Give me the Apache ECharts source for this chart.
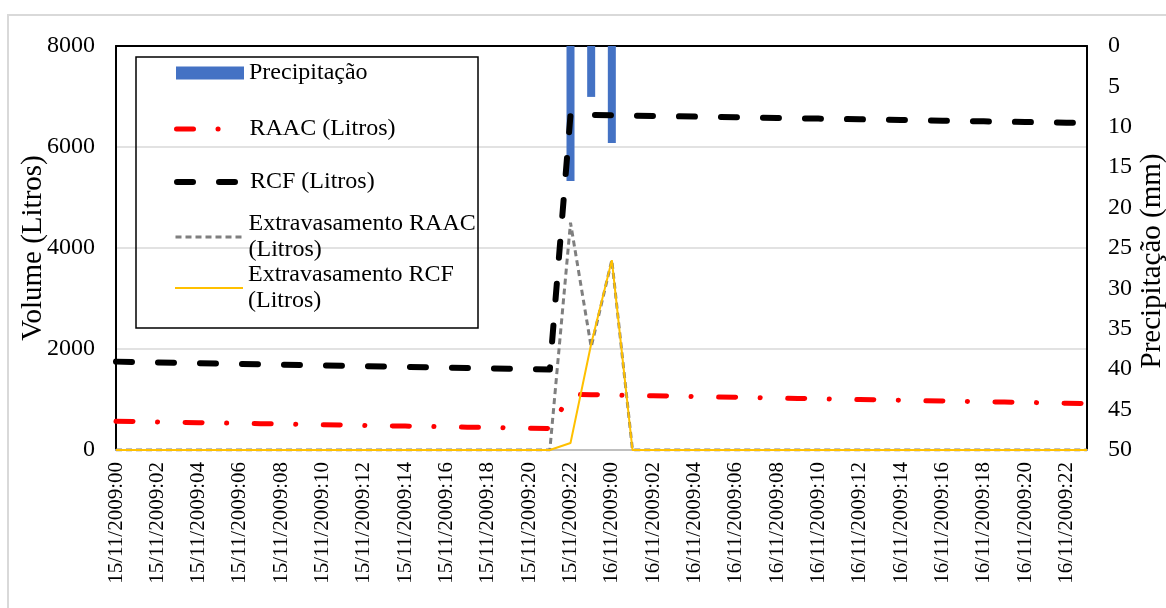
<!DOCTYPE html>
<html>
<head>
<meta charset="utf-8">
<script src="https://cdn.jsdelivr.net/npm/echarts@6/dist/echarts.min.js"></script>
<style>
  html, body { margin: 0; padding: 0; background: #ffffff; }
  #chart { width: 1166px; height: 608px; }
</style>
</head>
<body>
<div id="chart"></div>
<script>
// Hourly time stamps for the two days shown on the category axis
const days = ['15/11/2009', '16/11/2009'];
const hours = ['00','01','02','03','04','05','06','07','08','09','10','11',
               '12','13','14','15','16','17','18','19','20','21','22','23'];
const categories = [];
days.forEach(d => hours.forEach(h => categories.push(d + ':' + h)));

// Rainfall (mm), plotted downward from the top on the right axis
const precipitacao = [
  0, 0, 0, 0, 0, 0, 0, 0, 0, 0, 0, 0, 0, 0, 0, 0, 0, 0, 0, 0, 0, 0,
  16.7, 6.3, 12.0,
  0, 0, 0, 0, 0, 0, 0, 0, 0, 0, 0, 0, 0, 0, 0, 0, 0, 0, 0, 0, 0, 0, 0
];

// Stored volume in the RAAC tank (litres)
const raac = [
  570, 563, 556, 549, 542, 535, 528, 521, 514, 507, 500, 494, 487, 480, 473, 466, 459, 452, 445, 438, 431, 425,
  1100,
  1095, 1088, 1080, 1073, 1066, 1059, 1051, 1044, 1037, 1029, 1022, 1015, 1008, 1000, 993, 986, 978, 971, 964, 957, 949, 942, 935, 927, 920
];

// Stored volume in the RCF tank (litres)
const rcf = [
  1750, 1743, 1735, 1728, 1720, 1713, 1706, 1698, 1691, 1684, 1676, 1669, 1661, 1654, 1647, 1639, 1632, 1625, 1617, 1610, 1602, 1595,
  6640,
  6635, 6628, 6621, 6615, 6608, 6602, 6595, 6588, 6582, 6575, 6568, 6562, 6555, 6548, 6542, 6535, 6528, 6522, 6515, 6508, 6502, 6495, 6488, 6482, 6475
];

// Overflow volumes (litres)
const extravasamentoRaac = [
  0, 0, 0, 0, 0, 0, 0, 0, 0, 0, 0, 0, 0, 0, 0, 0, 0, 0, 0, 0, 0, 0,
  4500, 2040, 3760,
  0, 0, 0, 0, 0, 0, 0, 0, 0, 0, 0, 0, 0, 0, 0, 0, 0, 0, 0, 0, 0, 0, 0
];
const extravasamentoRcf = [
  0, 0, 0, 0, 0, 0, 0, 0, 0, 0, 0, 0, 0, 0, 0, 0, 0, 0, 0, 0, 0, 0,
  140, 2100, 3760,
  0, 0, 0, 0, 0, 0, 0, 0, 0, 0, 0, 0, 0, 0, 0, 0, 0, 0, 0, 0, 0, 0, 0
];

const names = [
  'Precipitação',
  'RAAC (Litros)',
  'RCF (Litros)',
  'Extravasamento RAAC\n(Litros)',
  'Extravasamento RCF\n(Litros)'
];

const FONT = 'Liberation Serif';

// Line styles shared by each series and its legend sample
const styleRaac = { color: '#ff0000', width: 5, type: [17, 24.5, 0.1, 27.5], cap: 'round', join: 'round' };
const styleRcf = { color: '#000000', width: 6, type: [16, 26], cap: 'round', join: 'round' };
const styleExtRaac = { color: '#7f7f7f', width: 3, type: [6, 4], cap: 'butt' };
const styleExtRcf = { color: '#ffc000', width: 2, type: 'solid' };

// One legend block per entry so each row sits where it should inside the box
function legendRow(name, top, opts) {
  return Object.assign({
    data: [name],
    orient: 'horizontal',
    left: 174,
    top: top,
    padding: 0,
    itemWidth: 68,
    itemHeight: 14,
    selectedMode: false,
    // hide the marker glyph drawn on top of line samples
    itemStyle: { opacity: 0 },
    textStyle: { fontFamily: FONT, fontSize: 24, color: '#000', lineHeight: 26 }
  }, opts || {});
}
const twoLineText = { fontFamily: FONT, fontSize: 24, color: '#000', lineHeight: 26, padding: [26, 0, 0, 0] };

const chart = echarts.init(document.getElementById('chart'), null, { renderer: 'canvas' });

chart.setOption({
  backgroundColor: '#ffffff',
  animation: false,
  graphic: [
    {
      type: 'rect', z: -10, silent: true,
      shape: { x: 8, y: 15, width: 1175, height: 610 },
      style: { fill: '#ffffff', stroke: '#d9d9d9', lineWidth: 2 }
    },
    {
      type: 'rect', z: 100, silent: true,
      shape: { x: 136, y: 57, width: 342, height: 271 },
      style: { fill: 'rgba(255,255,255,0)', stroke: '#000000', lineWidth: 1.5 }
    }
  ],
  legend: [
    legendRow(names[0], 60, { left: 176, itemHeight: 13, icon: 'rect', itemStyle: { color: '#4472c4' } }),
    legendRow(names[1], 116, { lineStyle: styleRaac }),
    legendRow(names[2], 169, { lineStyle: styleRcf }),
    legendRow(names[3], 198, { lineStyle: styleExtRaac, textStyle: twoLineText }),
    legendRow(names[4], 249, { lineStyle: styleExtRcf, textStyle: twoLineText })
  ],
  grid: { left: 116, right: 79, top: 46, bottom: 158, containLabel: false, outerBoundsMode: 'none' },
  xAxis: [
    {
      type: 'category',
      data: categories,
      boundaryGap: false,
      axisLine: { show: true, lineStyle: { color: '#bfbfbf', width: 2 } },
      axisTick: { show: false },
      axisLabel: {
        interval: 1,
        rotate: 90,
        margin: 12,
        fontFamily: FONT,
        fontSize: 21,
        color: '#000'
      },
      splitLine: { show: false }
    },
    {
      type: 'category',
      data: categories,
      position: 'top',
      boundaryGap: false,
      axisLine: { show: true, lineStyle: { color: '#000', width: 2 } },
      axisTick: { show: false },
      axisLabel: { show: false },
      splitLine: { show: false }
    }
  ],
  yAxis: [
    {
      type: 'value',
      min: 0, max: 8000, interval: 2000,
      name: 'Volume (Litros)',
      nameLocation: 'middle',
      nameRotate: 90,
      nameGap: 68,
      nameMoveOverlap: false,
      nameTextStyle: { fontFamily: FONT, fontSize: 29, color: '#000' },
      axisLine: { show: true, lineStyle: { color: '#000', width: 2 } },
      axisTick: { show: false },
      axisLabel: { margin: 21, fontFamily: FONT, fontSize: 24, color: '#000', formatter: v => String(v) },
      splitLine: { show: true, lineStyle: { color: '#d9d9d9', width: 1.5 } }
    },
    {
      type: 'value',
      min: 0, max: 50, interval: 5,
      inverse: true,
      position: 'right',
      name: 'Precipitação (mm)',
      nameLocation: 'middle',
      nameRotate: 90,
      nameGap: 51,
      nameMoveOverlap: false,
      nameTextStyle: { fontFamily: FONT, fontSize: 29, color: '#000', padding: [0, 26, 0, 0] },
      axisLine: { show: true, lineStyle: { color: '#000', width: 2 } },
      axisTick: { show: false },
      axisLabel: { margin: 21, fontFamily: FONT, fontSize: 24, color: '#000' },
      splitLine: { show: false }
    }
  ],
  series: [
    {
      name: names[0],
      type: 'bar',
      xAxisIndex: 0,
      yAxisIndex: 1,
      data: precipitacao,
      barWidth: 8,
      itemStyle: { color: '#4472c4' },
      z: 1
    },
    {
      name: names[1],
      type: 'line',
      yAxisIndex: 0,
      data: raac,
      symbol: 'none',
      lineStyle: styleRaac,
      itemStyle: { color: '#ff0000' },
      z: 3
    },
    {
      name: names[2],
      type: 'line',
      yAxisIndex: 0,
      data: rcf,
      symbol: 'none',
      lineStyle: styleRcf,
      itemStyle: { color: '#000000' },
      z: 4
    },
    {
      name: names[3],
      type: 'line',
      yAxisIndex: 0,
      data: extravasamentoRaac,
      symbol: 'none',
      lineStyle: styleExtRaac,
      itemStyle: { color: '#7f7f7f' },
      z: 5
    },
    {
      name: names[4],
      type: 'line',
      yAxisIndex: 0,
      data: extravasamentoRcf,
      symbol: 'none',
      lineStyle: styleExtRcf,
      itemStyle: { color: '#ffc000' },
      z: 6
    }
  ]
});
</script>
</body>
</html>
